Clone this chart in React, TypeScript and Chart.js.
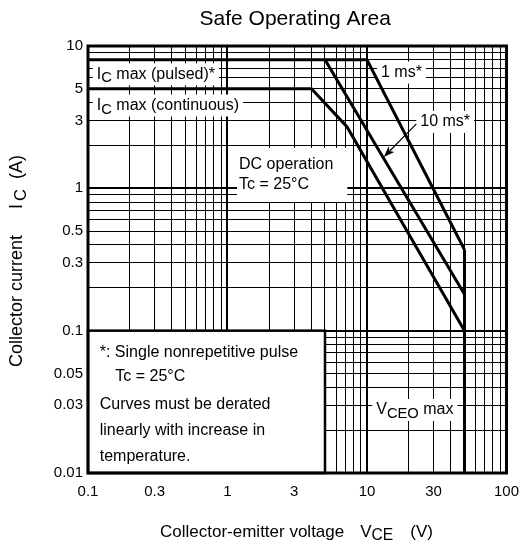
import React, { useEffect, useRef } from "react";
import { Chart, registerables } from "chart.js";

Chart.register(...registerables);

// ---- data ----
const xTickLabels = [0.1, 0.3, 1, 3, 10, 30, 100];
const yTickLabels = [0.01, 0.03, 0.05, 0.1, 0.3, 0.5, 1, 3, 5, 10];

const pulse1msV = [0.1, 10, 50];
const pulse1msI = [8, 8, 0.37];
const pulse10msV = [5, 50];
const pulse10msI = [8, 0.18];
const dcV = [0.1, 4, 7.2, 50];
const dcI = [5, 5, 2.7, 0.1];
const vceoV = [50, 50];
const vceoI = [0.37, 0.01];

const FONT = "'Liberation Sans', Arial, Helvetica, sans-serif";

type Part = { t: string; sub?: boolean; gap?: number };

function decadeGrid(minExp: number, maxExp: number): number[] {
  const out: number[] = [];
  for (let e = minExp; e < maxExp; e++) {
    for (let m = 1; m <= 9; m++) {
      out.push(e < 0 ? m / Math.pow(10, -e) : m * Math.pow(10, e));
    }
  }
  out.push(maxExp < 0 ? 1 / Math.pow(10, -maxExp) : Math.pow(10, maxExp));
  return out;
}

function isIn(list: number[], v: number) {
  return list.some((l) => Math.abs(l - v) / l < 1e-6);
}
function isDecade(v: number) {
  const l = Math.log10(v);
  return Math.abs(l - Math.round(l)) < 1e-6;
}

function toPts(xs: number[], ys: number[]) {
  return xs.map((x, i) => ({ x, y: ys[i] }));
}

function richWidth(ctx: CanvasRenderingContext2D, parts: Part[], size: number) {
  let w = 0;
  for (const p of parts) {
    w += p.gap || 0;
    ctx.font = `${p.sub ? size * 0.92 : size}px ${FONT}`;
    w += ctx.measureText(p.t).width;
  }
  return w;
}

function drawRich(ctx: CanvasRenderingContext2D, x: number, y: number, parts: Part[], size: number) {
  let cx = x;
  ctx.textAlign = "left";
  ctx.textBaseline = "middle";
  ctx.fillStyle = "#000";
  for (const p of parts) {
    cx += p.gap || 0;
    ctx.font = `${p.sub ? size * 0.92 : size}px ${FONT}`;
    ctx.fillText(p.t, cx, p.sub ? y + 4 : y);
    cx += ctx.measureText(p.t).width;
  }
  return cx - x;
}

const plotLabels: { x: number; y: number; parts: Part[] }[] = [
  { x: 0.1157, y: 6.32, parts: [{ t: "I" }, { t: "C", sub: true }, { t: " max (pulsed)*" }] },
  { x: 0.1157, y: 3.82, parts: [{ t: "I" }, { t: "C", sub: true }, { t: " max (continuous)" }] },
  { x: 12.6, y: 6.5, parts: [{ t: "1 ms*" }] },
  { x: 24.1, y: 2.93, parts: [{ t: "10 ms*" }] },
  { x: 11.65, y: 0.0277, parts: [{ t: "V" }, { t: "CEO", sub: true }, { t: " max" }] },
];

const dcText = ["DC operation", "Tc = 25°C"];
const dcTextPos = { x: 1.21, y1: 1.46, y2: 1.057 };
const noteBox = { x0: 0.1, x1: 5, y0: 0.01, y1: 0.1 };
const noteLines: { x: number; y: number; t: string }[] = [
  { x: 0.1214, y: 0.0697, t: "*: Single nonrepetitive pulse" },
  { x: 0.157, y: 0.0473, t: "Tc = 25°C" },
  { x: 0.1214, y: 0.03, t: "Curves must be derated" },
  { x: 0.1214, y: 0.0197, t: "linearly with increase in" },
  { x: 0.1214, y: 0.01296, t: "temperature." },
];
const arrow10ms = { x0: 22.6, y0: 2.84, x1: 13.2, y1: 1.66 };

const annotPlugin = {
  id: "soaAnnot",
  beforeDatasetsDraw(chart: any) {
    const ctx: CanvasRenderingContext2D = chart.ctx;
    const sx = (v: number) => chart.scales.x.getPixelForValue(v);
    const sy = (v: number) => chart.scales.y.getPixelForValue(v);
    ctx.save();
    ctx.fillStyle = "#fff";
    for (const l of plotLabels) {
      const w = richWidth(ctx, l.parts, 16);
      const px = sx(l.x);
      const py = sy(l.y);
      ctx.fillStyle = "#fff";
      ctx.fillRect(px - 4, py - 11, w + 8, 22);
    }
    // DC box
    ctx.font = `16px ${FONT}`;
    const dw = Math.max(...dcText.map((t) => ctx.measureText(t).width));
    const dx = sx(dcTextPos.x);
    const dy1 = sy(dcTextPos.y1);
    const dy2 = sy(dcTextPos.y2);
    ctx.fillStyle = "#fff";
    ctx.fillRect(dx - 2, dy1 - 17, dw + 16, dy2 - dy1 + 34);
    // note box
    const nx0 = sx(noteBox.x0), nx1 = sx(noteBox.x1), ny0 = sy(noteBox.y1), ny1 = sy(noteBox.y0);
    ctx.fillStyle = "#fff";
    ctx.fillRect(nx0, ny0, nx1 - nx0, ny1 - ny0);
    ctx.strokeStyle = "#000";
    ctx.lineWidth = 2.5;
    ctx.strokeRect(nx0, ny0, nx1 - nx0, ny1 - ny0);
    ctx.restore();
  },
  afterDatasetsDraw(chart: any) {
    const ctx: CanvasRenderingContext2D = chart.ctx;
    const sx = (v: number) => chart.scales.x.getPixelForValue(v);
    const sy = (v: number) => chart.scales.y.getPixelForValue(v);
    const ca = chart.chartArea;
    ctx.save();
    for (const l of plotLabels) drawRich(ctx, sx(l.x), sy(l.y), l.parts, 16);
    drawRich(ctx, sx(dcTextPos.x), sy(dcTextPos.y1), [{ t: dcText[0] }], 16);
    drawRich(ctx, sx(dcTextPos.x), sy(dcTextPos.y2), [{ t: dcText[1] }], 16);
    for (const n of noteLines) drawRich(ctx, sx(n.x), sy(n.y), [{ t: n.t }], 16);

    // arrow
    const ax0 = sx(arrow10ms.x0), ay0 = sy(arrow10ms.y0), ax1 = sx(arrow10ms.x1), ay1 = sy(arrow10ms.y1);
    const ang = Math.atan2(ay1 - ay0, ax1 - ax0);
    const hl = 11, hw = 4;
    ctx.strokeStyle = "#000";
    ctx.lineWidth = 1.2;
    ctx.beginPath();
    ctx.moveTo(ax0, ay0);
    ctx.lineTo(ax1 - Math.cos(ang) * hl * 0.8, ay1 - Math.sin(ang) * hl * 0.8);
    ctx.stroke();
    ctx.fillStyle = "#000";
    ctx.beginPath();
    ctx.moveTo(ax1, ay1);
    ctx.lineTo(ax1 - Math.cos(ang) * hl - Math.sin(ang) * hw, ay1 - Math.sin(ang) * hl + Math.cos(ang) * hw);
    ctx.lineTo(ax1 - Math.cos(ang) * hl * 0.75, ay1 - Math.sin(ang) * hl * 0.75);
    ctx.lineTo(ax1 - Math.cos(ang) * hl + Math.sin(ang) * hw, ay1 - Math.sin(ang) * hl - Math.cos(ang) * hw);
    ctx.closePath();
    ctx.fill();

    // plot frame
    ctx.strokeStyle = "#000";
    ctx.lineWidth = 3;
    ctx.strokeRect(ca.left, ca.top, ca.right - ca.left, ca.bottom - ca.top);

    // title
    ctx.font = `21px ${FONT}`;
    ctx.textAlign = "center";
    ctx.textBaseline = "middle";
    ctx.fillStyle = "#000";
    ctx.fillText("Safe Operating Area", (ca.left + ca.right) / 2 - 2, 19);

    // x title
    drawRich(
      ctx,
      160,
      532,
      [{ t: "Collector-emitter voltage" }, { t: "V", gap: 16 }, { t: "CE", sub: true }, { t: "(V)", gap: 17 }],
      17
    );

    // y title (rotated)
    ctx.translate(17, 367);
    ctx.rotate(-Math.PI / 2);
    drawRich(
      ctx,
      0,
      0,
      [{ t: "Collector current" }, { t: "I", gap: 26 }, { t: "C", sub: true, gap: 3 }, { t: "(A)", gap: 10 }],
      18
    );
    ctx.restore();
  },
};

export default function App() {
  const ref = useRef<HTMLCanvasElement | null>(null);
  useEffect(() => {
    if (!ref.current) return;
    const xGrid = decadeGrid(-1, 2);
    const yGrid = decadeGrid(-2, 1);
    const lineDs = (label: string, pts: { x: number; y: number }[]) => ({
      label,
      data: pts,
      showLine: true,
      borderColor: "#000",
      borderWidth: 3,
      pointRadius: 0,
      fill: false,
      tension: 0,
      borderJoinStyle: "miter" as const,
    });
    const chart = new Chart(ref.current, {
      type: "scatter",
      data: {
        datasets: [
          lineDs("1 ms", toPts(pulse1msV, pulse1msI)),
          lineDs("10 ms", toPts(pulse10msV, pulse10msI)),
          lineDs("DC", toPts(dcV, dcI)),
          lineDs("VCEO max", toPts(vceoV, vceoI)),
        ],
      },
      options: {
        animation: false,
        responsive: false,
        devicePixelRatio: 1,
        layout: { padding: { left: 0, top: 46, right: 14, bottom: 0 } },
        plugins: { legend: { display: false }, tooltip: { enabled: false }, title: { display: false } },
        scales: {
          x: {
            type: "logarithmic",
            min: 0.1,
            max: 100,
            afterBuildTicks: (s: any) => {
              s.ticks = xGrid.map((v) => ({ value: v }));
            },
            afterFit: (s: any) => {
              s.height = 71;
            },
            ticks: {
              autoSkip: false,
              maxRotation: 0,
              padding: 10,
              color: "#000",
              font: { family: FONT, size: 15 },
              callback: (v: any) => (isIn(xTickLabels, Number(v)) ? String(Number(v)) : ""),
            },
            grid: {
              color: "#000",
              lineWidth: (c: any) => (c.tick && isDecade(c.tick.value) ? 2 : 1),
              drawTicks: false,
            },
            border: { display: false },
          },
          y: {
            type: "logarithmic",
            min: 0.01,
            max: 10,
            afterBuildTicks: (s: any) => {
              s.ticks = yGrid.map((v) => ({ value: v }));
            },
            afterFit: (s: any) => {
              s.width = 88;
            },
            ticks: {
              autoSkip: false,
              padding: 5,
              color: "#000",
              font: { family: FONT, size: 15 },
              callback: (v: any) => (isIn(yTickLabels, Number(v)) ? String(Number(v)) : ""),
            },
            grid: {
              color: "#000",
              lineWidth: (c: any) => (c.tick && isDecade(c.tick.value) ? 2 : 1),
              drawTicks: false,
            },
            border: { display: false },
          },
        },
      },
      plugins: [annotPlugin],
    });
    return () => chart.destroy();
  }, []);
  return (
    <div style={{ position: "fixed", left: 0, top: 0, width: 529, height: 544, background: "#fff" }}>
      <canvas ref={ref} width={529} height={544} style={{ display: "block" }} />
    </div>
  );
}
